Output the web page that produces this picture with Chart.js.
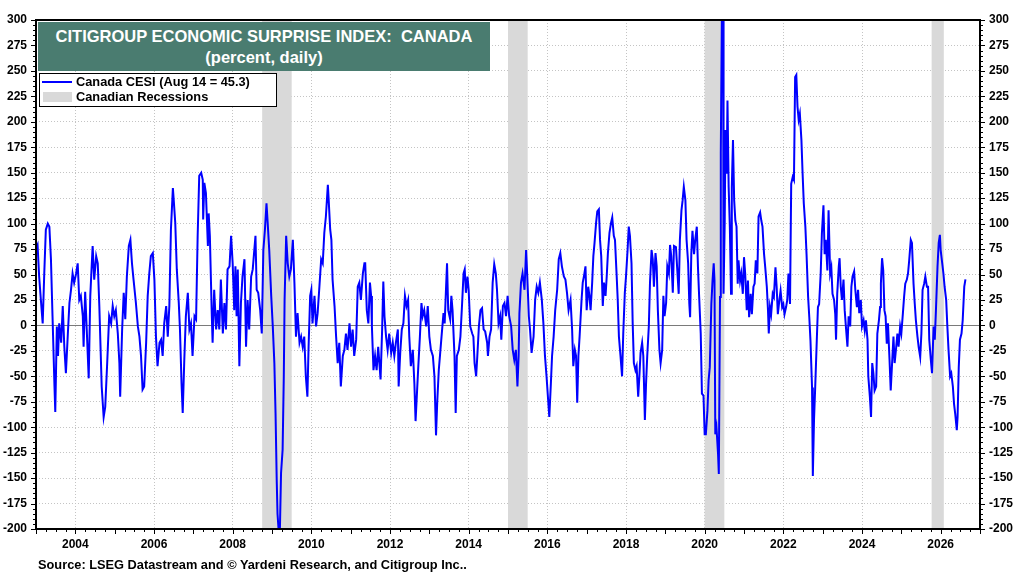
<!DOCTYPE html>
<html>
<head>
<meta charset="utf-8">
<script src="https://cdn.jsdelivr.net/npm/chart.js@4.4.1/dist/chart.umd.min.js"></script>
<style>
  html, body { margin: 0; padding: 0; background: #fff; }
  #wrap { position: relative; width: 1024px; height: 573px; font-family: "Liberation Sans", Arial, sans-serif; }
  #chart { position: absolute; left: 0; top: 0; }
  #title { position: absolute; left: 38px; top: 22px; width: 452px; height: 49px; background: #4a7c70;
           color: #fff; font-weight: bold; font-size: 16.5px; line-height: 21px; text-align: center;
           padding-top: 4px; box-sizing: border-box; white-space: pre; }
  #legend { position: absolute; left: 39px; top: 73px; width: 238px; height: 34px; background: #fff;
            border: 1.5px solid #000; box-sizing: border-box; font-weight: bold; font-size: 12.8px; }
  .row { position: relative; height: 15px; line-height: 15px; padding-left: 36px; }
  .swLine { position: absolute; left: 2px; top: 7px; width: 30px; height: 2px; background: #0000ff; }
  .swBox { position: absolute; left: 3px; top: 3px; width: 29px; height: 10px; background: #d9d9d9; }
  #source { position: absolute; left: 38px; top: 558px; font-weight: bold; font-size: 12.8px; line-height: 14px; }
</style>
</head>
<body>
<div id="wrap">
  <canvas id="chart" width="1024" height="573"></canvas>
  <div id="title">CITIGROUP ECONOMIC SURPRISE INDEX:  CANADA
(percent, daily)</div>
  <div id="legend">
    <div class="row"><span class="swLine"></span>Canada CESI (Aug 14 = 45.3)</div>
    <div class="row"><span class="swBox"></span>Canadian Recessions</div>
  </div>
  <div id="source">Source: LSEG Datastream and © Yardeni Research, and Citigroup Inc..</div>
</div>
<script>
// x axis labels and recession periods (decimal years)
var yearTicks = [2004, 2006, 2008, 2010, 2012, 2014, 2016, 2018, 2020, 2022, 2024, 2026];
var recessionStart = [2008.75, 2015.0, 2020.0, 2025.77];
var recessionEnd = [2009.5, 2015.5, 2020.5, 2026.08];

// CESI readings, split by period
var dates2003 = [2003.00, 2003.04, 2003.08, 2003.13, 2003.17, 2003.21, 2003.25, 2003.30, 2003.34, 2003.38,
  2003.42, 2003.47, 2003.49, 2003.53, 2003.56, 2003.59, 2003.64, 2003.68, 2003.72, 2003.76,
  2003.81, 2003.85, 2003.89, 2003.93, 2003.97, 2004.02, 2004.06, 2004.10, 2004.14, 2004.19,
  2004.21, 2004.25, 2004.29, 2004.34, 2004.38, 2004.44, 2004.48, 2004.53, 2004.57, 2004.61,
  2004.67, 2004.72, 2004.76, 2004.81, 2004.86, 2004.91, 2004.95, 2004.99, 2005.03, 2005.08,
  2005.12, 2005.14, 2005.19, 2005.23, 2005.27, 2005.31, 2005.36, 2005.40, 2005.44, 2005.48,
  2005.54, 2005.59, 2005.63, 2005.67, 2005.71, 2005.75, 2005.80, 2005.84, 2005.88, 2005.92,
  2005.97, 2006.01, 2006.05, 2006.09, 2006.14, 2006.18, 2006.22, 2006.26, 2006.31, 2006.35,
  2006.39, 2006.43, 2006.48, 2006.50, 2006.54, 2006.58, 2006.63, 2006.66, 2006.70, 2006.73,
  2006.77, 2006.81, 2006.86, 2006.90, 2006.94, 2006.98, 2007.03];
var cesi2003 = [75, 79, 48, 22, 2, 51, 94, 100, 97, 65,
  9, -60, -85, -1, -30, 2, -17, 19, -21, -47,
  -8, 22, 35, 51, 42, 51, 61, 25, 29, 9,
  -21, 33, -4, -52, 29, 78, 45, 68, 61, 19,
  -60, -90, -80, -37, 9, 2, 19, 9, 15, -8,
  -37, -70, -4, 32, 6, 48, 78, 84, 61, 45,
  22, -1, -11, -30, -63, -60, -17, 29, 51, 68,
  71, 45, -11, -40, -17, -14, -30, 2, 19, -11,
  19, 94, 135, 124, 101, 55, 22, -4, -57, -86,
  -34, 9, 32, -4, 2, -30, 9];

var dates2007 = [2007.07, 2007.11, 2007.15, 2007.20, 2007.24, 2007.25, 2007.28, 2007.32, 2007.37, 2007.39,
  2007.42, 2007.47, 2007.49, 2007.53, 2007.58, 2007.62, 2007.66, 2007.70, 2007.75, 2007.79,
  2007.83, 2007.87, 2007.92, 2007.96, 2008.00, 2008.04, 2008.07, 2008.10, 2008.13, 2008.17,
  2008.21, 2008.25, 2008.30, 2008.34, 2008.38, 2008.42, 2008.47, 2008.51, 2008.55, 2008.58,
  2008.61, 2008.65, 2008.70, 2008.74, 2008.78, 2008.82, 2008.86, 2008.89, 2008.93, 2008.98,
  2009.02, 2009.06, 2009.09, 2009.12, 2009.14, 2009.17, 2009.20, 2009.23, 2009.27, 2009.30,
  2009.32, 2009.36, 2009.40, 2009.44, 2009.48, 2009.53, 2009.57, 2009.61, 2009.65, 2009.70,
  2009.74, 2009.78, 2009.82, 2009.86, 2009.90, 2009.93, 2009.97, 2010.00, 2010.03, 2010.08,
  2010.12, 2010.16, 2010.20, 2010.25, 2010.29, 2010.33, 2010.37, 2010.42, 2010.44, 2010.48,
  2010.51, 2010.54, 2010.59, 2010.63, 2010.67, 2010.71, 2010.75, 2010.80, 2010.84, 2010.88,
  2010.92, 2010.97, 2011.01, 2011.05, 2011.09];
var cesi2007 = [6, 88, 147, 150, 143, 104, 140, 130, 78, 110,
  88, 9, -17, 35, -4, 15, -4, 45, -8, 22,
  -4, 55, 58, 88, 61, 15, 58, 9, 55, -40,
  22, 48, 65, -21, 25, -4, 48, 55, 74, 88,
  35, 32, 15, -8, 74, 94, 120, 101, 74, 29,
  -1, -37, -86, -152, -185, -202, -202, -145, -122, -50,
  25, 88, 61, 48, 55, 84, 42, -11, 12, -17,
  -11, -21, -11, -50, -70, -21, 29, 35, 2, 29,
  -1, 12, 35, 65, 61, 91, 107, 138, 124, 94,
  84, 45, 19, -11, -37, -17, -60, -30, -24, -8,
  -24, 2, -21, -4, -30];

var dates2011 = [2011.14, 2011.18, 2011.22, 2011.26, 2011.31, 2011.35, 2011.37, 2011.41, 2011.45, 2011.49,
  2011.52, 2011.54, 2011.58, 2011.62, 2011.66, 2011.70, 2011.73, 2011.76, 2011.80, 2011.83,
  2011.86, 2011.90, 2011.94, 2011.98, 2012.03, 2012.07, 2012.11, 2012.15, 2012.20, 2012.22,
  2012.26, 2012.30, 2012.34, 2012.38, 2012.42, 2012.46, 2012.49, 2012.53, 2012.58, 2012.62,
  2012.65, 2012.69, 2012.72, 2012.76, 2012.80, 2012.83, 2012.87, 2012.92, 2012.96, 2013.00,
  2013.04, 2013.09, 2013.13, 2013.17, 2013.20, 2013.24, 2013.27, 2013.31, 2013.36, 2013.39,
  2013.42, 2013.45, 2013.48, 2013.53, 2013.56, 2013.59, 2013.64, 2013.67, 2013.70, 2013.75,
  2013.79, 2013.83, 2013.87, 2013.90, 2013.93, 2013.97, 2014.00, 2014.04, 2014.09, 2014.12,
  2014.15, 2014.19, 2014.22, 2014.26, 2014.30, 2014.34, 2014.38, 2014.42, 2014.47, 2014.49,
  2014.53, 2014.57, 2014.61, 2014.65, 2014.69, 2014.72, 2014.76, 2014.80, 2014.83, 2014.87,
  2014.91, 2014.95, 2014.99, 2015.03, 2015.08, 2015.12, 2015.16];
var cesi2011 = [-14, 38, 42, 25, 51, 61, 61, 15, 2, 42,
  29, -1, -44, -30, -44, -21, -37, -53, -4, 43,
  9, -11, -24, -8, -27, -17, -30, -17, -4, -60,
  -27, -4, 2, 29, 19, 25, -11, -40, -24, -57,
  -94, -63, -40, -11, 22, 9, 15, -1, 19, -11,
  -24, -30, -50, -108, -76, -44, -30, -11, 12, 2,
  32, 61, 15, 6, 29, 15, -30, -86, -30, -24,
  -11, 19, 51, 55, 32, 48, 35, -1, -8, -11,
  -37, -50, -30, -1, 15, 17, -4, -6, -17, -30,
  -11, -4, 42, 60, 51, 35, 2, 9, -14, 19,
  22, 9, 29, 9, -1, -24, -34];

var dates2015 = [2015.20, 2015.24, 2015.27, 2015.29, 2015.33, 2015.37, 2015.42, 2015.46, 2015.49, 2015.53,
  2015.56, 2015.60, 2015.65, 2015.69, 2015.73, 2015.77, 2015.81, 2015.86, 2015.90, 2015.94,
  2015.98, 2016.02, 2016.05, 2016.09, 2016.12, 2016.16, 2016.20, 2016.25, 2016.29, 2016.33,
  2016.37, 2016.42, 2016.46, 2016.50, 2016.54, 2016.59, 2016.63, 2016.66, 2016.70, 2016.73,
  2016.76, 2016.79, 2016.82, 2016.87, 2016.90, 2016.93, 2016.97, 2017.00, 2017.04, 2017.07,
  2017.10, 2017.14, 2017.17, 2017.20, 2017.24, 2017.27, 2017.31, 2017.34, 2017.37, 2017.41,
  2017.44, 2017.48, 2017.51, 2017.54, 2017.58, 2017.62, 2017.65, 2017.69, 2017.72, 2017.76,
  2017.79, 2017.82, 2017.86, 2017.90, 2017.93, 2017.97, 2018.00, 2018.04, 2018.07, 2018.10,
  2018.14, 2018.17, 2018.20, 2018.24, 2018.27, 2018.31, 2018.34, 2018.37, 2018.41, 2018.44,
  2018.48, 2018.51, 2018.54, 2018.58, 2018.61, 2018.65, 2018.68, 2018.71, 2018.75, 2018.78,
  2018.81, 2018.85, 2018.88, 2018.92, 2018.95, 2018.98, 2019.02, 2019.05, 2019.09, 2019.12,
  2019.15, 2019.19, 2019.22];
var cesi2015 = [-24, -60, -30, 12, 42, 51, 35, 74, 48, 9,
  -4, -27, -11, 25, 38, 32, 42, 25, 2, -30,
  -50, -73, -90, -57, -30, -11, 15, 35, 65, 71,
  58, 48, 45, 32, 15, 25, -4, -40, -24, -30,
  -76, -30, -11, 25, 42, 48, 58, 15, 38, 29,
  15, 42, 68, 81, 101, 112, 114, 84, 68, 19,
  42, 29, 48, 71, 91, 101, 106, 88, 84, 51,
  25, -11, -30, -50, -8, 32, 48, 74, 97, 88,
  61, 2, -37, -44, -40, -70, -50, -27, -17, -30,
  -93, -57, -30, -1, 42, 74, 65, 38, 71, 58,
  15, -24, -37, -24, 29, 9, 22, 58, 51, 79,
  68, 32, 78];

var dates2019 = [2019.27, 2019.30, 2019.34, 2019.37, 2019.41, 2019.44, 2019.47, 2019.51, 2019.54, 2019.58,
  2019.61, 2019.63, 2019.66, 2019.69, 2019.73, 2019.76, 2019.80, 2019.83, 2019.86, 2019.90,
  2019.93, 2019.97, 2020.00, 2020.03, 2020.07, 2020.10, 2020.13, 2020.17, 2020.20, 2020.23,
  2020.25, 2020.27, 2020.30, 2020.34, 2020.36, 2020.39, 2020.41, 2020.44, 2020.47, 2020.48,
  2020.51, 2020.53, 2020.56, 2020.58, 2020.61, 2020.64, 2020.67, 2020.69, 2020.72, 2020.75,
  2020.78, 2020.81, 2020.84, 2020.86, 2020.90, 2020.93, 2020.97, 2021.00, 2021.03, 2021.07,
  2021.10, 2021.13, 2021.17, 2021.20, 2021.24, 2021.27, 2021.30, 2021.34, 2021.37, 2021.41,
  2021.44, 2021.47, 2021.51, 2021.54, 2021.58, 2021.61, 2021.63, 2021.66, 2021.69, 2021.73,
  2021.76, 2021.80, 2021.83, 2021.86, 2021.90, 2021.93, 2021.97, 2022.00, 2022.03, 2022.07,
  2022.10, 2022.13, 2022.17, 2022.20, 2022.24, 2022.27, 2022.30, 2022.33, 2022.36, 2022.39,
  2022.42, 2022.46, 2022.49, 2022.52, 2022.56, 2022.59, 2022.63, 2022.66, 2022.69, 2022.73,
  2022.75, 2022.78, 2022.81, 2022.85, 2022.88, 2022.91, 2022.95, 2022.98, 2023.02, 2023.05,
  2023.08, 2023.12, 2023.15, 2023.19, 2023.22, 2023.25, 2023.29, 2023.32];
var cesi2019 = [77, 57, 31, 84, 113, 123, 136, 123, 84, 61,
  21, 8, 70, 93, 70, 84, 97, 57, 28, -8,
  -67, -69, -107, -107, -84, -54, -41, 21, 44, 61,
  44, -107, -100, -126, -146, 28, 169, 320, 320, 31,
  103, 192, 149, 221, 136, 97, 31, 136, 182, 123,
  103, 97, 41, 64, 44, 51, 31, 67, 51, 15,
  44, 8, 31, 11, 38, 41, 64, 51, 107, 111,
  103, 97, 70, 57, 38, 15, -8, 18, 11, 31,
  28, 57, 38, 11, 25, 34, 18, 21, 11, 18,
  25, 51, 21, 139, 146, 143, 244, 246, 215, 202,
  208, 182, 149, 120, 97, 70, 28, 8, -15, -61,
  -148, -93, -61, -15, 18, 21, 51, 90, 118, 70,
  84, 54, 113, 51, 57, 31, 25, 11];

var dates2023 = [2023.34, 2023.37, 2023.41, 2023.43, 2023.46, 2023.49, 2023.53, 2023.56, 2023.59, 2023.63,
  2023.66, 2023.70, 2023.73, 2023.76, 2023.80, 2023.83, 2023.87, 2023.90, 2023.93, 2023.97,
  2024.00, 2024.04, 2024.07, 2024.10, 2024.14, 2024.16, 2024.20, 2024.23, 2024.26, 2024.29,
  2024.32, 2024.36, 2024.39, 2024.43, 2024.46, 2024.48, 2024.51, 2024.54, 2024.57, 2024.60,
  2024.63, 2024.66, 2024.70, 2024.73, 2024.76, 2024.80, 2024.83, 2024.87, 2024.90, 2024.93,
  2024.97, 2025.00, 2025.04, 2025.07, 2025.10, 2025.14, 2025.17, 2025.20, 2025.24, 2025.27,
  2025.31, 2025.34, 2025.37, 2025.41, 2025.44, 2025.48, 2025.51, 2025.54, 2025.58, 2025.61,
  2025.65, 2025.68, 2025.71, 2025.75, 2025.78, 2025.82, 2025.85, 2025.88, 2025.92, 2025.95,
  2025.98, 2026.00, 2026.04, 2026.07, 2026.10, 2026.14, 2026.17, 2026.20, 2026.24, 2026.27,
  2026.31, 2026.34, 2026.37, 2026.41, 2026.43, 2026.46, 2026.49, 2026.53, 2026.56, 2026.60,
  2026.63];
var cesi2023 = [-14, 31, 58, 66, 38, 25, 45, 15, -1, -21,
  9, -1, 38, 48, 53, 35, 18, 35, 12, 25,
  -1, 5, -5, 5, -14, -50, -70, -90, -37, -47,
  -64, -60, -8, 5, 18, 41, 66, 54, 15, 9,
  -18, 2, -34, -64, -41, -11, -37, -21, -8, -21,
  -1, -8, 12, 28, 41, 45, 51, 64, 84, 81,
  41, 22, 5, -11, -21, -31, -8, 35, 41, 48,
  38, 38, -14, -34, -47, -1, -14, 15, 58, 81,
  89, 74, 61, 51, 38, 25, -1, -24, -50, -47,
  -60, -77, -87, -103, -90, -41, -14, -8, 5, 38,
  45.3];

var cesiDates = [].concat(dates2003, dates2007, dates2011, dates2015, dates2019, dates2023);
var cesiValues = [].concat(cesi2003, cesi2007, cesi2011, cesi2015, cesi2019, cesi2023);

var cesiPoints = [];
for (var i = 0; i < cesiDates.length; i++) {
  cesiPoints.push({ x: cesiDates[i], y: cesiValues[i] });
}

var tickFont = { family: "'Liberation Sans', Arial, sans-serif", size: 12, weight: 'bold' };

//recession shading and zero line, under the data line
var bandsPlugin = {
  id: 'bands',
  beforeDatasetsDraw: function (chart) {
    var ctx = chart.ctx, a = chart.chartArea;
    var xs = chart.scales.x, ys = chart.scales.y;
    ctx.save();
    ctx.fillStyle = '#d9d9d9';
    for (var i = 0; i < recessionStart.length; i++) {
      var x1 = xs.getPixelForValue(recessionStart[i]);
      var x2 = xs.getPixelForValue(recessionEnd[i]);
      ctx.fillRect(x1, a.top, x2 - x1, a.bottom - a.top);
    }
    var y0 = Math.round(ys.getPixelForValue(0)) + 0.5;
    ctx.strokeStyle = '#7a7a7a';
    ctx.lineWidth = 1;
    ctx.beginPath();
    ctx.moveTo(a.left, y0);
    ctx.lineTo(a.right, y0);
    ctx.stroke();
    ctx.restore();
  }
};

//black frame plus the small outside tick marks
var framePlugin = {
  id: 'frame',
  afterDraw: function (chart) {
    var ctx = chart.ctx, a = chart.chartArea;
    var xs = chart.scales.x, ys = chart.scales.y;
    ctx.save();
    ctx.strokeStyle = '#000';
    ctx.lineWidth = 1;
    ctx.beginPath();
    for (var v = -200; v <= 300; v += 5) {
      var py = Math.round(ys.getPixelForValue(v)) + 0.5;
      var len = v % 25 === 0 ? 5 : 3;
      ctx.moveTo(a.left - len, py); ctx.lineTo(a.left, py);
      ctx.moveTo(a.right, py); ctx.lineTo(a.right + len, py);
    }
    for (var q = 2003; q <= 2027; q += 0.25) {
      var px = Math.round(xs.getPixelForValue(q)) + 0.5;
      var l = q % 1 === 0 ? 5 : 3;
      ctx.moveTo(px, a.bottom); ctx.lineTo(px, a.bottom + l);
    }
    ctx.stroke();
    ctx.lineWidth = 2;
    ctx.strokeRect(a.left, a.top, a.right - a.left, a.bottom - a.top);
    ctx.restore();
  }
};

new Chart(document.getElementById('chart'), {
  type: 'line',
  data: {
    datasets: [{
      label: 'Canada CESI',
      data: cesiPoints,
      borderColor: '#0000ff',
      borderWidth: 2,
      pointRadius: 0,
      tension: 0,
      clip: 0,
      yAxisID: 'y'
    }]
  },
  options: {
    responsive: false,
    animation: false,
    layout: { padding: { top: 20, bottom: 20, left: 0, right: 0 } },
    plugins: { legend: { display: false }, tooltip: { enabled: false } },
    scales: {
      x: {
        type: 'linear', min: 2003, max: 2027,
        afterBuildTicks: function (s) { s.ticks = yearTicks.map(function (v) { return { value: v }; }); },
        afterFit: function (s) { s.height = 24; },
        grid: { color: '#c4c4c4', lineWidth: 1, drawTicks: false },
        border: { display: false, dash: [1, 2] },
        ticks: { color: '#000', font: tickFont, padding: 8, autoSkip: false, maxRotation: 0,
                 callback: function (v) { return String(v); } }
      },
      y: {
        position: 'left', min: -200, max: 300,
        afterFit: function (s) { s.width = 36; },
        grid: { color: '#c4c4c4', lineWidth: 1, drawTicks: false },
        border: { display: false, dash: [1, 2] },
        ticks: { stepSize: 25, color: '#000', font: tickFont, padding: 9,
                 callback: function (v) { return String(v); } }
      },
      y2: {
        position: 'right', min: -200, max: 300,
        afterFit: function (s) { s.width = 44; },
        grid: { drawOnChartArea: false, drawTicks: false },
        border: { display: false },
        ticks: { stepSize: 25, color: '#000', font: tickFont, padding: 9,
                 callback: function (v) { return String(v); } }
      }
    }
  },
  plugins: [bandsPlugin, framePlugin]
});
</script>
</body>
</html>
